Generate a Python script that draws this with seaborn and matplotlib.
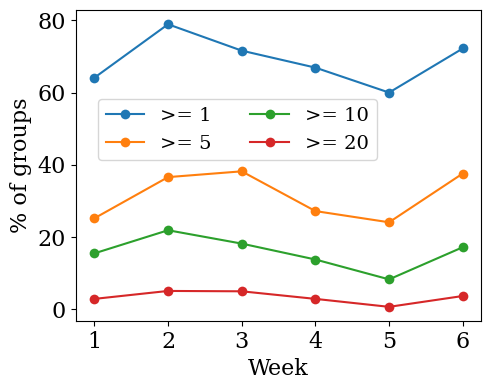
import matplotlib
matplotlib.use("Agg")
import matplotlib.pyplot as plt
import seaborn as sns
import pandas as pd

weeks = [1, 2, 3, 4, 5, 6]
ge1 = [64.1, 78.9, 71.6, 66.9, 60.0, 72.2]
ge5 = [25.2, 36.6, 38.2, 27.2, 24.1, 37.6]
ge10 = [15.5, 21.9, 18.2, 13.8, 8.3, 17.2]
ge20 = [2.9, 5.1, 5.0, 2.9, 0.7, 3.7]
labels = [">= 1", ">= 5", ">= 10", ">= 20"]

df = pd.DataFrame({"Week": weeks * 4,
                   "pct": ge1 + ge5 + ge10 + ge20,
                   "group": [l for l in labels for _ in weeks]})

plt.rcParams["font.family"] = "DejaVu Serif"
plt.rcParams["font.size"] = 16

fig, ax = plt.subplots(figsize=(4.9, 3.9), dpi=100)
sns.lineplot(data=df, x="Week", y="pct", hue="group", marker="o",
             markersize=7, markeredgewidth=0, palette="tab10", ax=ax)
ax.set_xlabel("Week")
ax.set_ylabel("% of groups")
ax.set_xticks(weeks)
ax.legend(ncol=2, loc="upper left", bbox_to_anchor=(0.054, 0.714),
          borderaxespad=0, fontsize=14)
fig.subplots_adjust(left=0.155, right=0.982, top=0.974, bottom=0.177)
plt.savefig("out.png")
